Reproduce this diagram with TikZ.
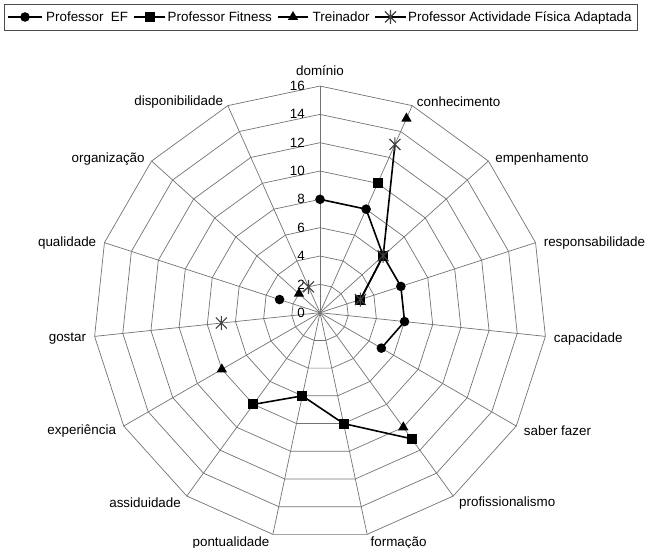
\documentclass[tikz,border=0pt]{standalone}
\usepackage{fontspec}
\setmainfont{Liberation Sans}
\usetikzlibrary{shapes.geometric}

\tikzset{
  gridline/.style={draw=black!55, line width=0.7pt},
  serieline/.style={draw=black, line width=1.6pt, line join=round},
  dotmark/.style={circle, fill=black, inner sep=0pt, minimum size=9.6pt},
  boxmark/.style={rectangle, fill=black, inner sep=0pt, minimum size=10pt},
  trimark/.style={regular polygon, regular polygon sides=3, fill=black, inner sep=0pt, minimum size=12pt},
  axislabel/.style={inner sep=2pt, yshift=-2pt},
}
\newcommand{\starmark}[1]{\draw[black!75, line width=1.1pt] (#1) +(-5.5,-5.5) -- +(5.5,5.5) (#1) +(-5.5,5.5) -- +(5.5,-5.5) (#1) +(0,-7) -- +(0,7);}

\begin{document}
\begin{tikzpicture}[x=1pt, y=1pt, font=\fontsize{13.4}{16}\selectfont]
\useasboundingbox (0,0) rectangle (646,548);

% legend
\draw[black!70, line width=0.8pt] (4,518) rectangle (637,544);
\draw[serieline, line width=1.4pt] (8,531) -- (42,531) (134,531) -- (165,531) (278,531) -- (308,531) (375,531) -- (406,531);
\node[dotmark] (legef) at (25,531) {};
\node[boxmark] (legfi) at (149.5,531) {};
\node[trimark] (legtr) at (293,531) {};
\coordinate (legap) at (390.5,531);
\starmark{legap}
\node[anchor=base west, inner sep=0pt] (txtef) at (46,526) {Professor\ \ EF};
\node[anchor=base west, inner sep=0pt] (txtfi) at (167.5,526) {Professor Fitness};
\node[anchor=base west, inner sep=0pt] (txttr) at (312.5,526) {Treinador};
\node[anchor=base west, inner sep=0pt] (txtap) at (408,526) {Professor Actividade Física Adaptada};

\begin{scope}[shift={(320,235.3)}]

% grid: spokes and rings
\foreach \i in {0,...,14}
  \draw[gridline] (0,0) -- (90-24*\i:226.7);
\foreach \r in {1,...,8}
  \draw[gridline] (90:\r*28.33) \foreach \i in {1,...,14} { -- (90-24*\i:\r*28.33)} -- cycle;

% scale
\foreach \v in {0,2,...,16}
  \node[anchor=east, inner sep=0pt] (tick\v) at (-15,\v*14.17) {\v};

% categories
\foreach \a/\t/\anc/\rr in {90/domínio/south/237, 66/conhecimento/west/233, 42/empenhamento/west/233,
    18/responsabilidade/west/233, -6/capacidade/west/233, -30/saber fazer/west/233,
    -54/profissionalismo/west/233, -78/formação/west/233, -102/pontualidade/east/233,
    -126/assiduidade/east/233, -150/experiência/east/233, -174/gostar/east/233,
    162/qualidade/east/233, 138/organização/east/233, 114/disponibilidade/east/233}
  \node[axislabel, anchor=\anc] at (\a:\rr) {\t};

% data points
\foreach \s/\i/\v in {ef/0/8, ef/1/8, ef/2/6, ef/3/6, ef/4/6, ef/5/5, ef/12/3,
    fi/1/10, fi/2/6, fi/3/3, fi/6/11, fi/7/8, fi/8/6, fi/9/8,
    tr/1/15, tr/6/10, tr/10/8, tr/13/2,
    ap/1/13, ap/2/6, ap/3/3, ap/11/7, ap/14/2}
  \coordinate (\s\i) at (90-24*\i:\v*14.17);

% Professor EF
\draw[serieline] (ef0) -- (ef1) -- (ef2) -- (ef3) -- (ef4) -- (ef5);
\foreach \i in {0,1,2,3,4,5,12}
  \node[dotmark] at (ef\i) {};

% Professor Fitness
\draw[serieline] (fi2) -- (fi3) (fi6) -- (fi7) -- (fi8) -- (fi9);
\foreach \i in {1,2,3,6,7,8,9}
  \node[boxmark] at (fi\i) {};

% Treinador
\foreach \i in {1,6,10,13}
  \node[trimark] at (tr\i) {};

% Professor Actividade Fisica Adaptada
\draw[serieline] (ap1) -- (ap2) -- (ap3);
\foreach \i in {1,2,3,11,14}
  {\starmark{ap\i}}

\end{scope}

\end{tikzpicture}
\end{document}
